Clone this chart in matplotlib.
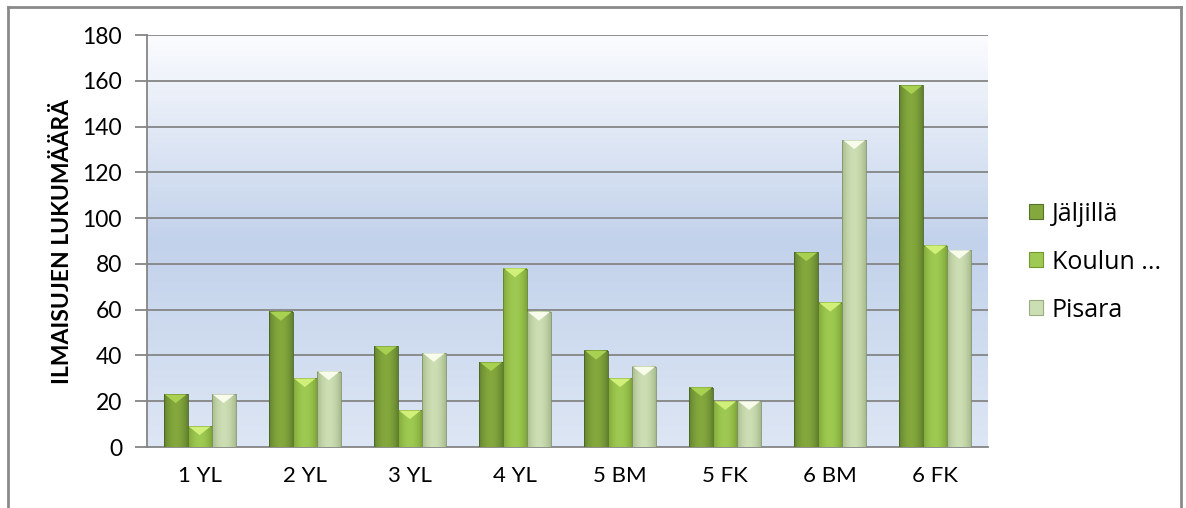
import numpy as np
import matplotlib.pyplot as plt
from matplotlib.patches import Polygon, Rectangle
from matplotlib.lines import Line2D
from matplotlib.colors import LinearSegmentedColormap

# luokat ja sarjat
luokat = ["1 YL", "2 YL", "3 YL", "4 YL", "5 BM", "5 FK", "6 BM", "6 FK"]
jaljilla = [23, 59, 44, 37, 42, 26, 85, 158]
koulun = [9, 30, 16, 78, 30, 20, 63, 88]
pisara = [23, 33, 41, 59, 35, 20, 134, 86]
sarjat = ["Jäljillä", "Koulun ...", "Pisara"]
yticks = list(range(0, 181, 20))

# perusvärit (tumma reuna, vaalea keskikohta, kärjen kolmio)
varit = [
    ((0.33, 0.45, 0.16), (0.52, 0.66, 0.24), (0.66, 0.82, 0.32)),
    ((0.45, 0.60, 0.18), (0.62, 0.79, 0.32), (0.82, 0.94, 0.48)),
    ((0.60, 0.68, 0.50), (0.80, 0.87, 0.70), (0.97, 0.99, 0.92)),
]

plt.rcParams['font.family'] = ['Lato', 'DejaVu Sans']

fig = plt.figure(figsize=(11.86, 5.08), dpi=100)
ax = fig.add_axes([0.124, 0.120, 0.709, 0.811])

# taustan liukuväri
tausta = LinearSegmentedColormap.from_list(
    "tausta", [(0.0, "#dde6f4"), (0.5, "#c2d2eb"), (1.0, "#fbfcfe")])
grad = np.linspace(0, 1, 256).reshape(-1, 1)
ax.imshow(grad, cmap=tausta, origin="lower", extent=(-0.5, 7.5, 0, 180),
          aspect="auto", zorder=0)

for y in yticks[1:]:
    ax.axhline(y, color="#858585", lw=1.3, zorder=1)

leveys = 0.228
x = np.arange(len(luokat))
t = np.linspace(0, 1, 40)
profiili = np.clip(np.sin(np.pi * (t * 0.9 + 0.05)) ** 0.7, 0, 1)

for i, arvot in enumerate([jaljilla, koulun, pisara]):
    tumma, vaalea, karki = [np.array(c) for c in varit[i]]
    rivi = tumma[None, :] + (vaalea - tumma)[None, :] * profiili[:, None]
    kuva = rivi[None, :, :]
    for xi, h in zip(x, arvot):
        x0 = xi + (i - 1.5) * leveys
        x1 = x0 + leveys
        ax.imshow(kuva, extent=(x0, x1, 0, h), aspect="auto", zorder=3,
                  interpolation="bilinear")
        ax.add_patch(Rectangle((x0, 0), leveys, h, fill=False,
                               ec=tumma * 0.85, lw=0.6, zorder=4))
        d = 3.8
        ax.add_patch(Polygon([(x0 + 0.01, h), (x1 - 0.01, h), ((x0 + x1) / 2, h - d)],
                             closed=True, fc=karki, ec="none", zorder=5))

ax.set_xlim(-0.5, 7.5)
ax.set_ylim(0, 180)
ax.set_yticks(yticks)
ax.set_xticks(x)
ax.set_xticklabels(luokat)
ax.tick_params(axis="y", length=9, color="#858585", width=1.3, labelsize=16.5, pad=9)
ax.tick_params(axis="x", length=0, labelsize=16, pad=14)
for s in ["top", "right"]:
    ax.spines[s].set_visible(False)
for s in ["left", "bottom"]:
    ax.spines[s].set_color("#858585")
    ax.spines[s].set_linewidth(1.3)

ax.set_ylabel("ILMAISUJEN LUKUMÄÄRÄ", fontsize=16.5, fontweight="bold", labelpad=7)

# selite
kahvat = [Rectangle((0, 0), 1, 1, fc=varit[i][1], ec=varit[i][0], lw=0.8)
          for i in range(3)]
fig.legend(kahvat, sarjat, loc="center left", bbox_to_anchor=(0.849, 0.484),
           frameon=False, handlelength=0.55, handleheight=0.55,
           handletextpad=0.35, labelspacing=0.92, prop={"family": "Open Sans", "size": 18})

# kaavion kehys
kehys = dict(color="#8a8a8a", lw=2.0, transform=fig.transFigure)
fig.add_artist(Line2D([8 / 1186, 8 / 1186], [0, 1 - 7 / 508], **kehys))
fig.add_artist(Line2D([8 / 1186, 1181 / 1186], [1 - 7 / 508, 1 - 7 / 508], **kehys))
fig.add_artist(Line2D([1181 / 1186, 1181 / 1186], [0, 1 - 7 / 508], **kehys))

fig.savefig("out.png", dpi=100)
